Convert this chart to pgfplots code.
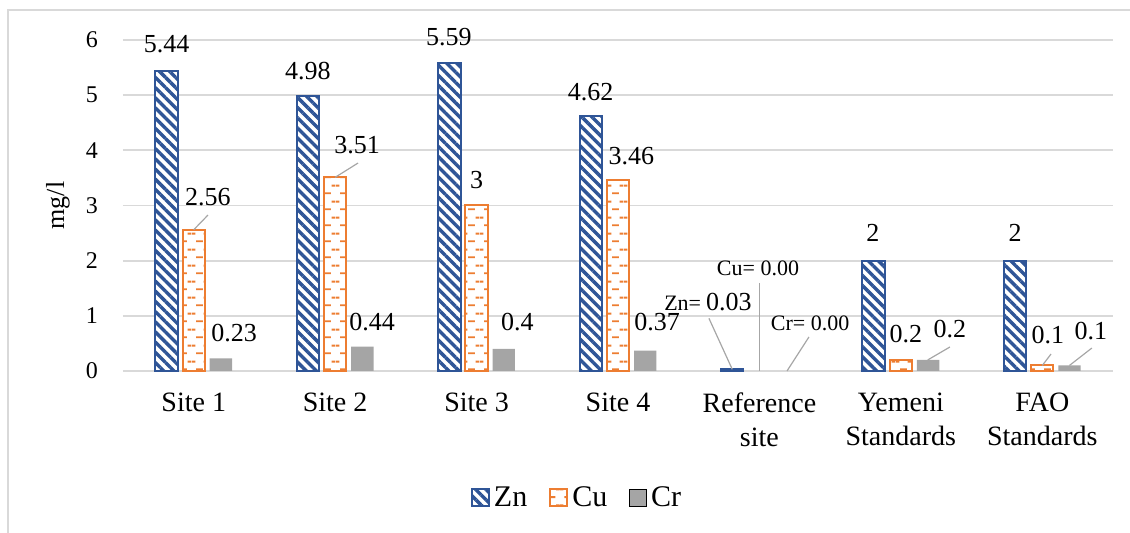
\documentclass[border=0pt]{standalone}
\usepackage{fontspec}
\setmainfont{Liberation Serif}
\usepackage{pgfplots}
\pgfplotsset{compat=1.18}
\usetikzlibrary{patterns,patterns.meta}
\definecolor{znblue}{HTML}{2F5597}
\definecolor{cuorange}{HTML}{ED7D31}
\definecolor{crgray}{HTML}{A5A5A5}
\definecolor{gridgray}{HTML}{D9D9D9}
\definecolor{leadgray}{HTML}{A6A6A6}

\tikzdeclarepattern{
  name=cudash,
  type=uncolored,
  bottom left={(0pt,0pt)},
  top right={(8pt,8pt)},
  tile size={(8pt,8pt)},
  code={
    \draw[line width=1pt] (2.2pt,2pt) -- (5.8pt,2pt);
    \draw[line width=1pt] (-0.1pt,6pt) -- (1.8pt,6pt);
    \draw[line width=1pt] (6.2pt,6pt) -- (8.1pt,6pt);
  }
}

\newcommand{\lab}[3]{\node[font=\fontsize{13}{15}\selectfont, inner sep=0pt] at (axis cs:#1,#2) {#3};}

\begin{document}
\begin{tikzpicture}
\begin{axis}[
  at={(61.5pt,81pt)}, anchor=south west,
  scale only axis, width=495pt, height=165.5pt,
  xmin=-0.5, xmax=6.5, ymin=0, ymax=6,
  ybar=2.4pt, bar width=11.2pt,
  clip=false,
  axis line style={draw=none},
  major tick length=0pt,
  ymajorgrids, grid style={draw=gridgray, line width=0.9pt},
  ytick={0,1,2,3,4,5,6},
  xtick={0,1,2,3,4,5,6},
  xticklabels={Site 1, Site 2, Site 3, Site 4, {Reference\\site}, {Yemeni\\Standards}, {FAO\\Standards}},
  xticklabel style={align=center, font=\fontsize{14}{17}\selectfont, yshift=-7.5pt},
  yticklabel style={font=\fontsize{12}{14}\selectfont, xshift=-9pt},
  /pgf/number format/assume math mode=true,
  ylabel={mg/l},
  ylabel style={at={(axis description cs:-0.0657,0.5)}, anchor=center, font=\fontsize{13}{15}\selectfont},
  legend columns=3,
  legend image code/.code={\draw[#1] (0pt,-4.25pt) rectangle (8.5pt,4.25pt);},
  legend style={at={(0.4596,-0.3837)}, anchor=center, draw=none, fill=none,
    font=\fontsize{15}{17}\selectfont,
    /tikz/every even column/.append style={column sep=9pt}},
]
\addplot[draw=znblue, line width=1pt, preaction={fill=white},
  pattern={Lines[angle=-45,distance=3.6pt,line width=1.7pt]}, pattern color=znblue]
  coordinates {(0,5.44) (1,4.98) (2,5.59) (3,4.62) (4,0.03) (5,2) (6,2)};
\addplot[draw=cuorange, line width=1pt, preaction={fill=white},
  pattern=cudash, pattern color=cuorange]
  coordinates {(0,2.56) (1,3.51) (2,3) (3,3.46) (5,0.2) (6,0.1)};
\addplot[draw=none, fill=crgray]
  coordinates {(0,0.23) (1,0.44) (2,0.4) (3,0.37) (5,0.2) (6,0.1)};
\legend{Zn, Cu, Cr}

\lab{-0.192}{5.927}{5.44}
\lab{0.101}{3.154}{2.56}
\lab{0.285}{0.689}{0.23}
\lab{0.808}{5.438}{4.98}
\lab{1.155}{4.096}{3.51}
\lab{1.261}{0.888}{0.44}
\lab{1.805}{6.045}{5.59}
\lab{2.0}{3.453}{3}
\lab{2.289}{0.879}{0.4}
\lab{2.806}{5.057}{4.62}
\lab{3.095}{3.897}{3.46}
\lab{3.276}{0.879}{0.37}
\lab{4.803}{2.501}{2}
\lab{5.036}{0.671}{0.2}
\lab{5.347}{0.761}{0.2}
\lab{5.808}{2.501}{2}
\lab{6.040}{0.653}{0.1}
\lab{6.344}{0.725}{0.1}
\node[inner sep=0pt] at (axis cs:3.636,1.251) {{\fontsize{11}{13}\selectfont Zn=} {\fontsize{13}{15}\selectfont 0.03}};
\node[inner sep=0pt, font=\fontsize{11}{13}\selectfont] at (axis cs:3.990,1.867) {Cu= 0.00};
\node[inner sep=0pt, font=\fontsize{11}{13}\selectfont] at (axis cs:4.358,0.870) {Cr= 0.00};

\draw[leadgray, line width=0.6pt] (axis cs:0.101,2.827) -- (axis cs:0,2.56);
\draw[leadgray, line width=0.6pt] (axis cs:1.162,3.770) -- (axis cs:1.0,3.51);
\draw[leadgray, line width=0.6pt] (axis cs:3.643,0.955) -- (axis cs:3.808,0.03);
\draw[leadgray, line width=0.6pt] (axis cs:4.0,1.595) -- (axis cs:4.0,0);
\draw[leadgray, line width=0.6pt] (axis cs:4.350,0.616) -- (axis cs:4.195,0);
\draw[leadgray, line width=0.6pt] (axis cs:5.347,0.435) -- (axis cs:5.19,0.2);
\draw[leadgray, line width=0.6pt] (axis cs:6.062,0.308) -- (axis cs:6.0,0.1);
\draw[leadgray, line width=0.6pt] (axis cs:6.351,0.417) -- (axis cs:6.192,0.1);
\end{axis}
\draw[gridgray, line width=0.75pt] (4pt,-10pt) -- (4pt,261.5pt) -- (580pt,261.5pt);
\pgfresetboundingbox
\useasboundingbox (0,0) rectangle (565pt,266.5pt);
\end{tikzpicture}
\end{document}
